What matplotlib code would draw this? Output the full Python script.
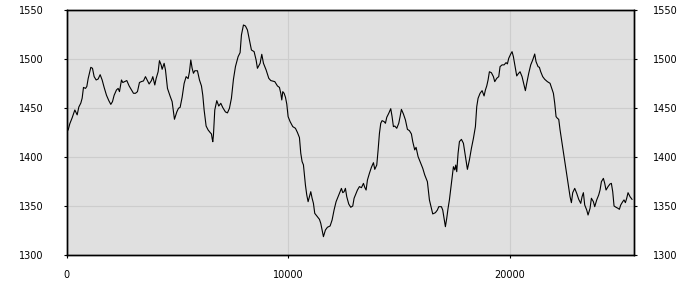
import matplotlib
matplotlib.use("Agg")
import matplotlib.pyplot as plt

x_vals = [75, 150, 255, 376, 481, 556, 646, 706, 766, 857, 917, 977, 1097, 1172, 1247, 1338, 1428, 1518,
          1608, 1698, 1804, 1909, 1999, 2074, 2149, 2254, 2330, 2390, 2480, 2540, 2630, 2720, 2826, 2931,
          3021, 3111, 3201, 3291, 3382, 3472, 3562, 3652, 3727, 3832, 3893, 3983, 4043, 4133, 4193,
          4269, 4314, 4404, 4465, 4555, 4675, 4765, 4870, 4976, 5051, 5126, 5216, 5306, 5396, 5487, 5547,
          5607, 5667, 5727, 5787, 5907, 5998, 6088, 6148, 6208, 6298, 6388, 6479, 6539, 6569, 6599, 6629,
          6689, 6779, 6869, 6960, 7050, 7170, 7260, 7350, 7440, 7531, 7621, 7741, 7831, 7891, 7982, 8072,
          8162, 8252, 8342, 8463, 8553, 8613,
          8734, 8809, 8885, 9005, 9125, 9215, 9396, 9516, 9606, 9666, 9711, 9756, 9816, 9877, 9937, 9997,
          10087, 10207, 10327, 10418, 10508, 10568, 10628, 10688, 10778, 10838, 10899, 10959, 11019, 11079,
          11139, 11199, 11319, 11410, 11470, 11530, 11590, 11680, 11770, 11891, 11981, 12071, 12161, 12251,
          12341, 12402, 12462, 12522, 12582, 12642, 12732, 12822, 12913, 12973, 13093,
          13124, 13214, 13305, 13395, 13455, 13515, 13575, 13665, 13755, 13846, 13906, 13996, 14056, 14116,
          14176, 14236, 14327, 14387, 14447, 14537, 14627, 14687, 14747, 14808, 14898, 14988, 15048, 15108,
          15198, 15289, 15379, 15469, 15559, 15619, 15709, 15769, 15860, 15980, 16070, 16160, 16280, 16371,
          16461, 16521, 16641, 16731, 16792, 16912, 16972, 17032, 17092, 17152, 17212, 17273, 17363,
          17454, 17514, 17559, 17604, 17664, 17725, 17815, 17905, 17995, 18085, 18175, 18266, 18356, 18446,
          18506, 18566, 18656, 18747, 18837, 18897, 18957, 19017, 19077, 19167, 19258, 19318, 19408, 19498,
          19558, 19648, 19739, 19829, 19889, 19949, 20039, 20099, 20159, 20250, 20310, 20370, 20460, 20550,
          20640, 20700, 20761, 20851, 20941, 21031, 21121, 21181, 21272, 21332, 21392, 21482, 21572, 21692,
          21813,
          21964, 22024, 22084, 22145, 22205, 22265, 22355, 22445, 22535, 22626, 22716, 22776, 22836, 22926,
          23016, 23106, 23197, 23257, 23317, 23377, 23467, 23527, 23617, 23678, 23768, 23828, 23918, 24008,
          24068, 24129, 24219, 24279, 24339, 24429, 24519, 24579, 24640, 24700, 24790, 24880, 24940, 25000,
          25090, 25150, 25211, 25271, 25331, 25421, 25511]

y_vals = [1427.6, 1434, 1440, 1448, 1443, 1451, 1455, 1460, 1471, 1470, 1472, 1480, 1491.5, 1490.5, 1482,
          1478.6, 1479.6, 1484, 1478.6, 1471, 1463, 1457.5, 1453.7, 1456.5, 1463, 1468.4, 1470, 1466.7,
          1478.6, 1476, 1477, 1478, 1472.5, 1468.4, 1465, 1465, 1466.7, 1476, 1477, 1477.6, 1482, 1478,
          1474.5, 1478, 1482, 1473.5, 1480, 1487, 1498.3,
          1494, 1489.5, 1495.6, 1488.8, 1470, 1462, 1456.5, 1438.5, 1446, 1449.7, 1450.7, 1461, 1475, 1482,
          1480, 1487, 1499, 1490.5, 1485.4, 1488, 1488, 1478.6, 1472.5, 1463, 1448, 1431.6, 1427.6, 1425,
          1423.5, 1419, 1415.6, 1422.5, 1448, 1457.5, 1452, 1454.8, 1450.4, 1446, 1445, 1449.7, 1460,
          1479.3, 1492.2, 1502.4, 1506.5, 1524.5, 1534.7, 1533.7, 1529.6, 1519.4, 1509.2, 1507.5, 1499,
          1490.5,
          1495.6, 1504.8, 1495.6, 1488.8, 1480.3, 1478, 1476.9, 1472.5, 1471, 1465, 1458.2, 1466.7, 1465,
          1461, 1454, 1441.2, 1436.1, 1431, 1429.3, 1425, 1419.8, 1403.8, 1395.3, 1392, 1371.4, 1361.3,
          1354.4, 1359.5, 1364.6, 1357.9, 1352.7, 1342.5, 1339, 1336.4, 1332.3, 1325.5, 1318.7, 1325.5,
          1328.3, 1329.6, 1335.7, 1346, 1354.4, 1359.5, 1364.6, 1368, 1363.6, 1364.6, 1368, 1359.5, 1352,
          1348.7, 1350, 1357.9, 1364.6,
          1366.3, 1369.8, 1368.7, 1373.1, 1369, 1366.3, 1376.5, 1383.4, 1389.5, 1394.2, 1387.4, 1391.8,
          1407, 1424, 1434.4, 1437.1, 1436.1, 1434.4, 1440.5, 1444.6, 1449.3, 1441.2, 1431, 1431.6, 1429.3,
          1434.4, 1441.2, 1448.6, 1443.9, 1437.8, 1428.2, 1426.9, 1423.5, 1415.7, 1407.2, 1409.9, 1400.4,
          1393.6, 1388.5, 1381.7, 1374.8, 1356.2, 1347.6, 1341.9, 1343.2, 1345.9, 1349.3, 1349.3, 1345.9,
          1337.4, 1328.9, 1337.4, 1347.6, 1356.2, 1373.1,
          1390.1, 1386.8, 1391.8, 1385, 1403.8, 1415.7, 1418, 1414, 1400.4, 1387.4, 1397, 1408.9, 1419,
          1431, 1451.4, 1459.9, 1465, 1467.7, 1462.3, 1468.4, 1472.5, 1478.6, 1487, 1486, 1482, 1476.9,
          1480.3, 1482, 1492.2, 1494, 1494, 1496.3, 1495, 1500.7, 1505.1, 1507.5, 1502.4, 1490.5, 1482.7,
          1484.7, 1487, 1482, 1473.5, 1467.7, 1475.2, 1485.4, 1494, 1499, 1505.1, 1497.3, 1492.2, 1491.5,
          1487, 1482, 1479.3, 1476.9, 1475.2,
          1465, 1454.8, 1441.2, 1439.5, 1438.4, 1427.6, 1414, 1400.4, 1386.8, 1373.1, 1359.5, 1353.4,
          1363.6, 1368, 1362.9, 1356.8, 1352.7, 1359.5, 1363.6, 1351, 1345.9, 1340.8, 1347.6, 1357.9,
          1354.4, 1349.3, 1356.2, 1361.3, 1366.3, 1374.8, 1378.2, 1373.1, 1366.3, 1369.8, 1372.5, 1373.1,
          1364.6, 1350, 1348.7, 1347.6, 1346.6, 1351, 1354.4, 1356.2, 1353.4, 1357.9, 1363.6, 1359.5,
          1356.8]

y_ticks = [1300, 1350, 1400, 1450, 1500, 1550]
x_ticks = [0, 10000, 20000]

plt.rcParams['font.family'] = ['DejaVu Sans']

fig = plt.figure(figsize=(7, 3), dpi=100)
ax = fig.add_axes([66.5 / 700, 1 - 255 / 300, (634 - 66.5) / 700, 245 / 300])
ax.set_facecolor('#e0e0e0')
ax.plot(x_vals, y_vals, color='black', lw=0.8)
ax.set_xlim(0, 25600)
ax.set_ylim(1300, 1550)
ax.set_yticks(y_ticks)
ax.set_xticks(x_ticks)
ax.set_yticklabels([str(v) for v in y_ticks])
ax.set_xticklabels([str(v) for v in x_ticks])
ax.grid(True, color='#cdcdcd', lw=0.8)
ax.set_axisbelow(True)
for s in ax.spines.values():
    s.set_color('black')
    s.set_linewidth(1)
ax.tick_params(axis='y', direction='out', length=2.2, width=0.8, labelsize=7, pad=14.5, colors='black')
ax.tick_params(axis='x', direction='out', length=2.2, width=0.8, labelsize=7, pad=8.5, colors='black')

ax2 = ax.twinx()
ax2.set_ylim(1300, 1550)
ax2.set_yticks(y_ticks)
ax2.set_yticklabels([str(v) for v in y_ticks])
ax2.tick_params(axis='y', direction='out', length=2.2, width=0.8, labelsize=7, pad=11.5, colors='black')
for s in ax2.spines.values():
    s.set_color('black')
    s.set_linewidth(1)

fig.savefig('out.png', dpi=100)
